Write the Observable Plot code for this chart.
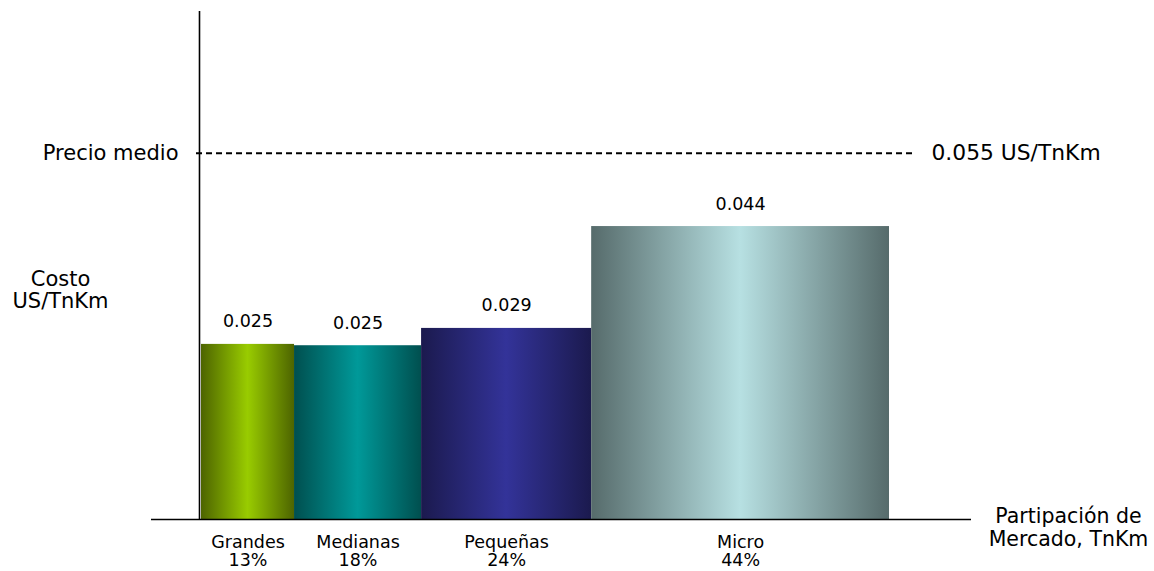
<!DOCTYPE html>
<html>
<head>
<meta charset="utf-8">
<script src="https://cdn.jsdelivr.net/npm/d3@7"></script>
<script src="https://cdn.jsdelivr.net/npm/@observablehq/plot@0.6"></script>
<style>
  html, body { margin: 0; padding: 0; background: #fff; }
  #chart svg { display: block; }
</style>
</head>
<body>
<div id="chart"></div>
<script>
// ---- data ----
const categories = ["Grandes", "Medianas", "Pequeñas", "Micro"];
const shareLabels = ["13%", "18%", "24%", "44%"];
const shares = [13.4, 18.3, 24.5, 42.9];           // bar widths (market share, %)
const costs = [0.0263, 0.0261, 0.0287, 0.0440];     // bar heights (US/TnKm)
const costLabels = ["0.025", "0.025", "0.029", "0.044"];
const averagePrice = 0.055;
const averagePriceLabel = "0.055 US/TnKm";
const edgeColors = ["#4d6400", "#004f4f", "#1b1a4e", "#566b6b"];
const centerColors = ["#99cc00", "#009999", "#333399", "#b7e0e2"];

// table built from the arrays
let acc = 0;
const bars = categories.map((c, i) => {
  const x1 = acc; acc += shares[i];
  return {category: c, share: shareLabels[i], x1, x2: acc, xm: (x1 + acc) / 2,
          cost: costs[i], label: costLabels[i], fill: `url(#grad-${i})`};
});
const total = acc;

const gradients = () => {
  const g = d3.create("svg:g");
  const defs = g.append("defs");
  categories.forEach((c, i) => {
    const lg = defs.append("linearGradient").attr("id", `grad-${i}`)
      .attr("x1", 0).attr("x2", 1).attr("y1", 0).attr("y2", 0);
    lg.append("stop").attr("offset", "0%").attr("stop-color", edgeColors[i]);
    lg.append("stop").attr("offset", "50%").attr("stop-color", centerColors[i]);
    lg.append("stop").attr("offset", "100%").attr("stop-color", edgeColors[i]);
  });
  return g.node();
};

const font = "DejaVu Sans, Verdana, sans-serif";

const chart = Plot.plot({
  width: 1154,
  height: 571,
  marginLeft: 201,
  marginRight: 265,
  marginTop: 11,
  marginBottom: 52,
  x: {domain: [0, total], axis: null},
  y: {domain: [0, 0.0763], axis: null},
  color: {type: "identity"},
  style: {fontFamily: font, color: "#000", background: "#fff"},
  marks: [
    gradients,
    Plot.rectY(bars, {x1: "x1", x2: "x2", y: "cost", fill: "fill"}),
    // axes lines
    Plot.ruleY([0], {stroke: "#000", strokeWidth: 1.6, insetLeft: -50, insetRight: -82}),
    Plot.ruleX([0], {stroke: "#000", strokeWidth: 1.6, dx: -2}),
    // average price
    Plot.ruleY([averagePrice], {stroke: "#000", strokeWidth: 2, strokeDasharray: "6,4", insetLeft: -5, insetRight: -23}),
    Plot.text([averagePrice], {y: d => d, x: 0, text: () => "Precio medio", textAnchor: "end", dx: -23, fontSize: 21}),
    Plot.text([averagePrice], {y: d => d, frameAnchor: "right", text: () => averagePriceLabel, textAnchor: "start", dx: 42, fontSize: 21.8}),
    // value labels
    Plot.text(bars, {x: "xm", y: "cost", text: "label", lineAnchor: "bottom", dy: -17, fontSize: 17.5}),
    // category labels
    Plot.text(bars, {x: "xm", y: 0, text: d => `${d.category}\n${d.share}`, lineAnchor: "top", dy: 16, lineHeight: 1.03, fontSize: 17.5}),
    // axis titles
    Plot.text(["Costo\nUS/TnKm"], {frameAnchor: "left", text: d => d, dx: -141, dy: 24, lineAnchor: "middle", lineHeight: 1.05, fontSize: 21, textAnchor: "middle"}),
    Plot.text(["Partipación de\nMercado, TnKm"], {frameAnchor: "bottom-right", text: d => d, dx: 179, dy: 8, lineAnchor: "middle", lineHeight: 1.1, fontSize: 20.5, textAnchor: "middle"})
  ]
});
document.getElementById("chart").append(chart);
</script>
</body>
</html>
